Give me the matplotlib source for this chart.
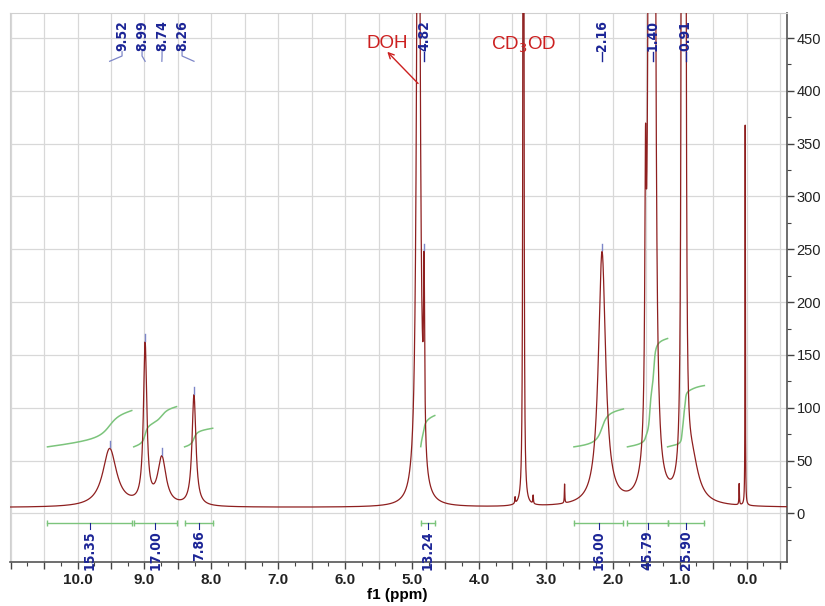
import numpy as np
import matplotlib

matplotlib.use("Agg")
import matplotlib.pyplot as plt  # noqa: E402
from matplotlib import font_manager as fm  # noqa: E402
from matplotlib.ticker import MultipleLocator, FuncFormatter  # noqa: E402

# ---- spectrum: Lorentzian lines (ppm, height, fwhm) ----
peak_ppm = [9.52, 8.99, 8.74, 8.26, 4.905, 4.82, 3.46, 3.335, 3.19, 2.72,
            2.16, 1.51, 1.445, 1.385, 0.965, 0.94, 0.915, 0.82, 0.11, 0.02]
peak_height = [55, 150, 45, 105, 900, 165, 6, 3000, 8, 18,
               240, 220, 1500, 1500, 1500, 1500, 1500, 40, 20, 360]
peak_fwhm = [0.25, 0.06, 0.15, 0.07, 0.052, 0.02, 0.01, 0.008, 0.01, 0.008,
             0.13, 0.024, 0.036, 0.036, 0.016, 0.016, 0.016, 0.24, 0.008, 0.006]
baseline = 5.5

# peak picking labels (top) and where the label text sits
pick_ppm = [9.52, 8.99, 8.74, 8.26, 4.82, 2.16, 1.40, 0.91]
pick_label_x = [9.335, 9.036, 8.737, 8.438, 4.82, 2.16, 1.40, 0.91]

# integration regions (from, to in ppm) and values
int_from = [10.45, 9.16, 8.40, 4.87, 2.58, 1.78, 1.18]
int_to = [9.19, 8.52, 7.98, 4.66, 1.84, 1.18, 0.63]
int_value = [15.35, 17.00, 7.86, 13.24, 16.00, 45.79, 25.90]

RED = "#8e1f1f"
GREEN = "#7cc47c"
BLUE = "#1c2596"
LBLUE = "#7d86c8"
ANN_RED = "#cc2020"


def _narrow_bold(size):
    # a condensed bold face for the MestReNova-style blue labels, if one is installed
    prefs = ("Liberation Sans Narrow", "DejaVu Sans", "Roboto Condensed",
             "Open Sans Condensed", "Noto Sans")
    found = {}
    for f in fm.fontManager.ttflist:
        w = f.weight
        bold = w == "bold" or (isinstance(w, int) and w >= 600)
        narrow = ("Narrow" in f.name or "Condensed" in f.name
                  or f.stretch in ("condensed", "semi-condensed", 87, 75))
        if bold and narrow:
            found.setdefault(f.name, f.fname)
    for p in prefs:
        if p in found:
            return fm.FontProperties(fname=found[p], size=size)
    if found:
        return fm.FontProperties(fname=next(iter(found.values())), size=size)
    return fm.FontProperties(family="Liberation Sans", weight="bold", size=size - 1.5)


LABEL_FONT = _narrow_bold(10)

x = np.linspace(11.2, -0.8, 30001)
y = np.full_like(x, baseline)
for c, h, w in zip(peak_ppm, peak_height, peak_fwhm):
    y += h / (1 + ((x - c) / (w / 2)) ** 2)

plt.rcParams["font.family"] = ["Liberation Sans", "DejaVu Sans"]
fig = plt.figure(figsize=(8.25, 6.06), dpi=100)
ax = fig.add_axes([10 / 825, 1 - 562 / 606, 777 / 825, 549 / 606])

ax.plot(x, y, color=RED, lw=0.9, zorder=3)
ax.set_xlim(11.01, -0.605)
ax.set_ylim(-46, 473.7)

# integral curves: cumulative area over each region, rise = 2.24 per unit
for a, b, v in zip(int_from, int_to, int_value):
    m = (x <= a) & (x >= b)
    cum = np.cumsum(y[m])
    cum = cum / cum[-1]
    ax.plot(x[m], 63 + 2.24 * v * cum, color=GREEN, lw=1.1, zorder=2)
    ax.plot([a, b], [-9, -9], color=GREEN, lw=1.0, marker="|", ms=5, zorder=2)
    xc = 0.5 * (a + b)
    ax.plot([xc, xc], [-9, -15], color=BLUE, lw=0.8, zorder=4)
    ax.text(xc, -16, f"{v:.2f}", rotation=90, ha="center", va="top",
            color=BLUE, fontproperties=LABEL_FONT, clip_on=False, zorder=5)

# peak picking labels
for p, lx in zip(pick_ppm, pick_label_x):
    ax.text(lx, 438, f"{p:.2f}", rotation=90, ha="center", va="bottom",
            color=BLUE, fontproperties=LABEL_FONT, zorder=5)
    if abs(lx - p) > 1e-6:
        ax.plot([lx, lx, p], [437, 433, 428], color=LBLUE, lw=0.9, zorder=4)
    else:
        ax.plot([lx, lx], [437, 428], color=BLUE, lw=1.0, zorder=4)
    top = np.interp(-p, -x, y)
    if top < 460:
        ax.plot([p, p], [top + 1, top + 7], color=LBLUE, lw=1.0, zorder=4)

# solvent annotations
ax.text(5.366, 445, "DOH", color=ANN_RED, fontsize=13.5, ha="center", va="center")
ax.annotate("", xy=(5.37, 437), xytext=(4.91, 407),
            arrowprops=dict(arrowstyle="->", color=ANN_RED, lw=1.0,
                            shrinkA=0, shrinkB=0))
ax.text(3.333, 443.5, "CD$_3$OD", color=ANN_RED, fontsize=13.5,
        ha="center", va="center")

# axes styling
ax.xaxis.set_major_locator(MultipleLocator(0.5))
ax.xaxis.set_minor_locator(MultipleLocator(0.25))
ax.xaxis.set_major_formatter(FuncFormatter(
    lambda v, _: f"{v:.1f}" if abs(v - round(v)) < 1e-6 and -0.1 < v < 10.5 else ""))
ax.yaxis.tick_right()
ax.yaxis.set_major_locator(MultipleLocator(50))
ax.yaxis.set_minor_locator(MultipleLocator(25))
ax.grid(True, which="major", color="#d8d8d8", lw=0.9)
ax.set_axisbelow(True)
ax.tick_params(axis="x", which="major", length=5, width=1, colors="#444444",
               labelsize=11, labelcolor="#222222", pad=3)
ax.tick_params(axis="x", which="minor", length=3, width=0.8, colors="#444444")
ax.tick_params(axis="y", which="major", length=5, width=1, colors="#444444",
               labelsize=10.5, labelcolor="#222222", pad=2)
ax.tick_params(axis="y", which="minor", length=3, width=0.8, colors="#444444")
for lab in ax.get_xticklabels():
    lab.set_fontweight("bold")
ax.set_xlabel("f1 (ppm)", fontsize=11, fontweight="bold")
ax.xaxis.set_label_coords((397 - 10) / 777, -0.048)
for s in ("top", "left"):
    ax.spines[s].set_color("#d0d0d0")
for s in ("bottom", "right"):
    ax.spines[s].set_color("#555555")
    ax.spines[s].set_linewidth(1.2)

fig.savefig("out.png", dpi=100)
